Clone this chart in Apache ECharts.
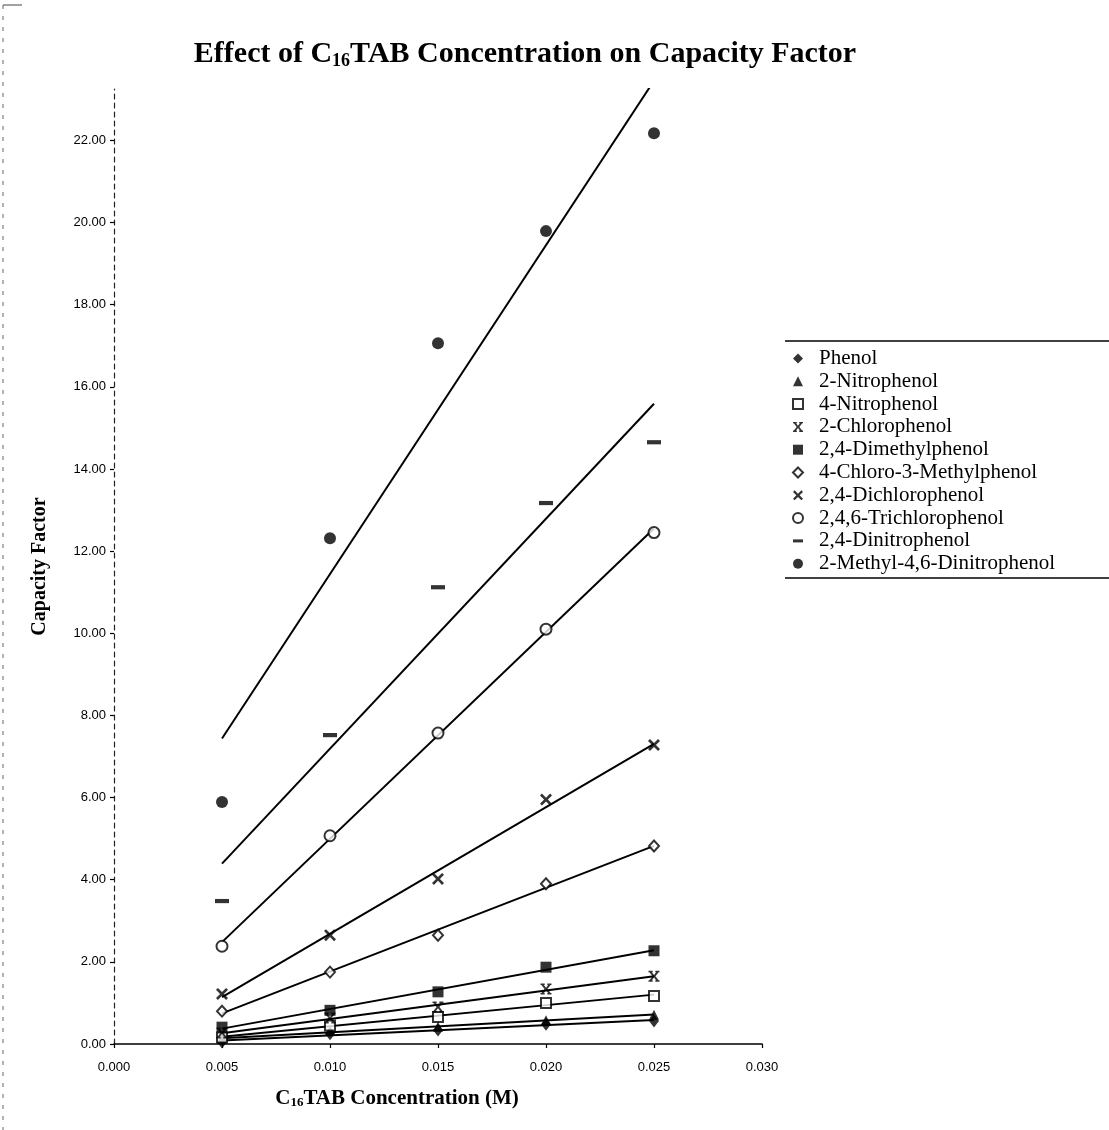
<!DOCTYPE html>
<html>
<head>
<meta charset="utf-8">
<title>Effect of C16TAB Concentration on Capacity Factor</title>
<script src="https://cdn.jsdelivr.net/npm/echarts@6/dist/echarts.min.js"></script>
<style>
  html, body { margin: 0; padding: 0; background: #ffffff; }
  #chart { width: 1109px; height: 1130px; }
</style>
</head>
<body>
<div id="chart"></div>
<script>
// Surfactant concentration (M)
const concentration = [0.005, 0.010, 0.015, 0.020, 0.025];

// Capacity factor k' of each phenol at each concentration
const phenol            = [0.05, 0.25, 0.34, 0.48, 0.56];
const nitrophenol2      = [0.12, 0.32, 0.42, 0.58, 0.71];
const nitrophenol4      = [0.16, 0.45, 0.66, 1.00, 1.17];
const chlorophenol2     = [0.27, 0.63, 0.90, 1.34, 1.65];
const dimethylphenol    = [0.41, 0.82, 1.27, 1.87, 2.27];
const chloroMethyl      = [0.80, 1.75, 2.65, 3.90, 4.82];
const dichlorophenol    = [1.22, 2.65, 4.02, 5.95, 7.28];
const trichlorophenol   = [2.38, 5.07, 7.57, 10.10, 12.45];
const dinitrophenol     = [3.48, 7.52, 11.12, 13.17, 14.65];
const methylDinitro     = [5.89, 12.31, 17.06, 19.79, 22.17];

const compoundNames = [
  'Phenol', '2-Nitrophenol', '4-Nitrophenol', '2-Chlorophenol',
  '2,4-Dimethylphenol', '4-Chloro-3-Methylphenol', '2,4-Dichlorophenol',
  '2,4,6-Trichlorophenol', '2,4-Dinitrophenol', '2-Methyl-4,6-Dinitrophenol'
];
const compoundValues = [
  phenol, nitrophenol2, nitrophenol4, chlorophenol2, dimethylphenol,
  chloroMethyl, dichlorophenol, trichlorophenol, dinitrophenol, methylDinitro
];

// Axis tick values
const xTicks = [0, 0.005, 0.010, 0.015, 0.020, 0.025, 0.030];
const yTicks = [0, 2, 4, 6, 8, 10, 12, 14, 16, 18, 20, 22];

// Marker shapes
const X_PATH = 'path://M0,1.6 L1.6,0 L5,3.4 L8.4,0 L10,1.6 L6.6,5 L10,8.4 L8.4,10 L5,6.6 L1.6,10 L0,8.4 L3.4,5 Z';
const BAR_X_PATH = 'path://M0,0 H3.8 V1.4 H3.1 L5,3.9 L6.9,1.4 H6.2 V0 H10 V1.4 H9.2 L6.3,5 L9.2,8.6 H10 V10 H6.2 V8.6 H6.9 L5,6.1 L3.1,8.6 H3.8 V10 H0 V8.6 H0.8 L3.7,5 L0.8,1.4 H0 Z';
const DASH_PATH = 'path://M0,0 M10,10 M0,3.5 H10 V6.5 H0 Z';

const filled = { color: '#000' };
const open = { color: '#fff', borderColor: '#000', borderWidth: 2 };
const markerStyles = [
  { symbol: 'diamond',  size: [10, 13], item: filled },
  { symbol: 'triangle', size: 10,       item: filled },
  { symbol: 'rect',     size: 10,       item: open },
  { symbol: BAR_X_PATH, size: 11,       item: filled },
  { symbol: 'rect',     size: 11,       item: filled },
  { symbol: 'diamond',  size: [10, 11], item: open },
  { symbol: X_PATH,     size: 12,       item: filled },
  { symbol: 'circle',   size: 11,       item: open },
  { symbol: DASH_PATH,  size: 14,       item: filled },
  { symbol: 'circle',   size: 12,       item: filled }
];

// Least-squares straight line through each compound's points
function linearFit(xs, ys) {
  const n = xs.length;
  const mx = xs.reduce((a, b) => a + b, 0) / n;
  const my = ys.reduce((a, b) => a + b, 0) / n;
  let sxy = 0, sxx = 0;
  for (let i = 0; i < n; i++) {
    sxy += (xs[i] - mx) * (ys[i] - my);
    sxx += (xs[i] - mx) * (xs[i] - mx);
  }
  const slope = sxy / sxx;
  const icpt = my - slope * mx;
  const x0 = xs[0], x1 = xs[n - 1];
  return [[x0, icpt + slope * x0], [x1, icpt + slope * x1]];
}

const serif = '"Liberation Serif", "Times New Roman", serif';
const sans = '"Liberation Sans", Arial, sans-serif';

const series = [];
compoundValues.forEach((vals, i) => {
  series.push({
    name: compoundNames[i] + ' fit',
    type: 'line',
    data: linearFit(concentration, vals),
    showSymbol: false,
    symbol: 'none',
    clip: true,
    lineStyle: { color: '#000', width: 2 },
    silent: true,
    z: 2
  });
});
compoundValues.forEach((vals, i) => {
  const st = markerStyles[i];
  series.push({
    name: compoundNames[i],
    type: 'scatter',
    data: concentration.map((c, j) => [c, vals[j]]),
    symbol: st.symbol,
    symbolSize: st.size,
    itemStyle: st.item,
    z: 3
  });
});

const chart = echarts.init(document.getElementById('chart'), null, { renderer: 'canvas' });
chart.setOption({
  backgroundColor: '#ffffff',
  animation: false,
  title: {
    text: '{a|Effect of C}{s|16}{a|TAB Concentration on Capacity Factor}',
    left: 520,
    top: 34,
    textAlign: 'center',
    textStyle: {
      rich: {
        a: { fontFamily: serif, fontWeight: 'bold', fontSize: 30, color: '#000' },
        s: { fontFamily: serif, fontWeight: 'bold', fontSize: 18, color: '#000', verticalAlign: 'bottom', padding: [0, 0, -1, 0] }
      }
    }
  },
  grid: { left: 114, right: 347, top: 89, bottom: 86, containLabel: false },
  xAxis: {
    type: 'value',
    min: 0,
    max: 0.03,
    interval: 0.005,
    name: '{a|C}{s|16}{a|TAB Concentration (M)}',
    nameLocation: 'middle',
    nameGap: 44,
    nameTextStyle: {
      padding: [0, 82, 0, 0],
      rich: {
        a: { fontFamily: serif, fontWeight: 'bold', fontSize: 21, color: '#000' },
        s: { fontFamily: serif, fontWeight: 'bold', fontSize: 13, color: '#000', verticalAlign: 'bottom' }
      }
    },
    axisLine: { onZero: false, lineStyle: { color: '#000', width: 1.6 } },
    axisTick: { show: true, length: 4, lineStyle: { color: '#000', width: 1.2 } },
    axisLabel: {
      color: '#000', fontFamily: sans, fontSize: 13, margin: 17,
      formatter: v => v.toFixed(3)
    },
    splitLine: { show: false }
  },
  yAxis: {
    type: 'value',
    min: 0,
    max: 23.25,
    name: 'Capacity Factor',
    nameLocation: 'middle',
    nameGap: 64,
    nameTextStyle: { fontFamily: serif, fontWeight: 'bold', fontSize: 20, color: '#000' },
    axisLine: { lineStyle: { color: '#222', width: 1.2, type: [5, 4] } },
    axisTick: { show: true, length: 4, customValues: yTicks, lineStyle: { color: '#000', width: 1.2 } },
    axisLabel: {
      color: '#000', fontFamily: sans, fontSize: 13, margin: 8,
      customValues: yTicks,
      formatter: v => v.toFixed(2)
    },
    splitLine: { show: false }
  },
  legend: {
    orient: 'vertical',
    left: 787,
    top: 343,
    itemWidth: 10,
    itemHeight: 10,
    itemGap: 1.8,
    data: compoundNames,
    formatter: name => '{t|' + name + '}',
    textStyle: {
      color: '#000',
      rich: { t: { fontFamily: serif, fontSize: 21, color: '#000', padding: [0, 0, 0, 11] } }
    },
    selectedMode: false
  },
  graphic: [
    { type: 'line', shape: { x1: 785, y1: 341, x2: 1109, y2: 341 }, style: { stroke: '#000', lineWidth: 1.5 } },
    { type: 'line', shape: { x1: 785, y1: 578, x2: 1109, y2: 578 }, style: { stroke: '#000', lineWidth: 1.5 } },
    { type: 'line', shape: { x1: 3, y1: 5, x2: 3, y2: 1130 }, style: { stroke: '#666', lineWidth: 1, lineDash: [4, 7] } },
    { type: 'line', shape: { x1: 3, y1: 5, x2: 22, y2: 5 }, style: { stroke: '#444', lineWidth: 1 } }
  ],
  series: series
});
</script>
</body>
</html>
